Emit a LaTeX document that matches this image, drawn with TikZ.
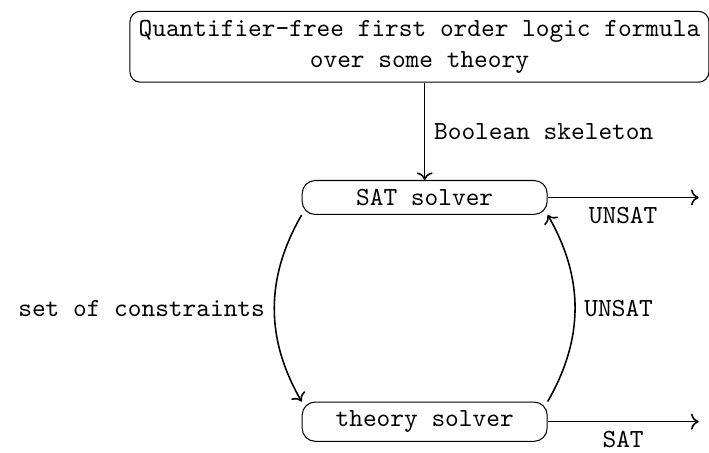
\documentclass[tikz,border=0pt]{standalone}
\usetikzlibrary{arrows.meta}

\begin{document}
\begin{tikzpicture}[
    x=1cm, y=1cm, font=\ttfamily,
    formula/.style={draw, rounded corners=4pt, align=center, inner sep=3.33pt},
    solver/.style={draw, rounded corners=5pt, minimum width=3.30cm,
                   inner sep=3.33pt},
    flow/.style={->, semithick},
    lbl/.style={inner sep=3.33pt},
]
\useasboundingbox (0,0) rectangle (9.55,6.09);

% ===================== Input formula =====================
\node[formula] (input) at (5.65,5.46)
      {Quantifier-free first order logic formula\\over some theory};

% ===================== Solvers =====================
\node[solver] (sat) at (5.72,3.43) {SAT solver};
\node[solver] (theory) at (5.72,0.41) {theory solver};

% ===================== Results =====================
\coordinate (unsatOut) at (9.41,3.43);
\coordinate (satOut) at (9.41,0.41);

\draw[flow] (sat.north |- input.south) -- node[lbl, right] {Boolean skeleton} (sat.north);
\draw[flow] (sat.east) -- node[lbl, below] {UNSAT} (unsatOut);
\draw[flow] (theory.east) -- node[lbl, below] {SAT} (satOut);

% ===================== Loop between solvers =====================
\draw[flow] (sat.south west) to[bend right=30]
      node[lbl, left] {set of constraints} (theory.north west);
\draw[flow] (theory.north east) to[bend right=30]
      node[lbl, right] {UNSAT} (sat.south east);

\end{tikzpicture}
\end{document}
